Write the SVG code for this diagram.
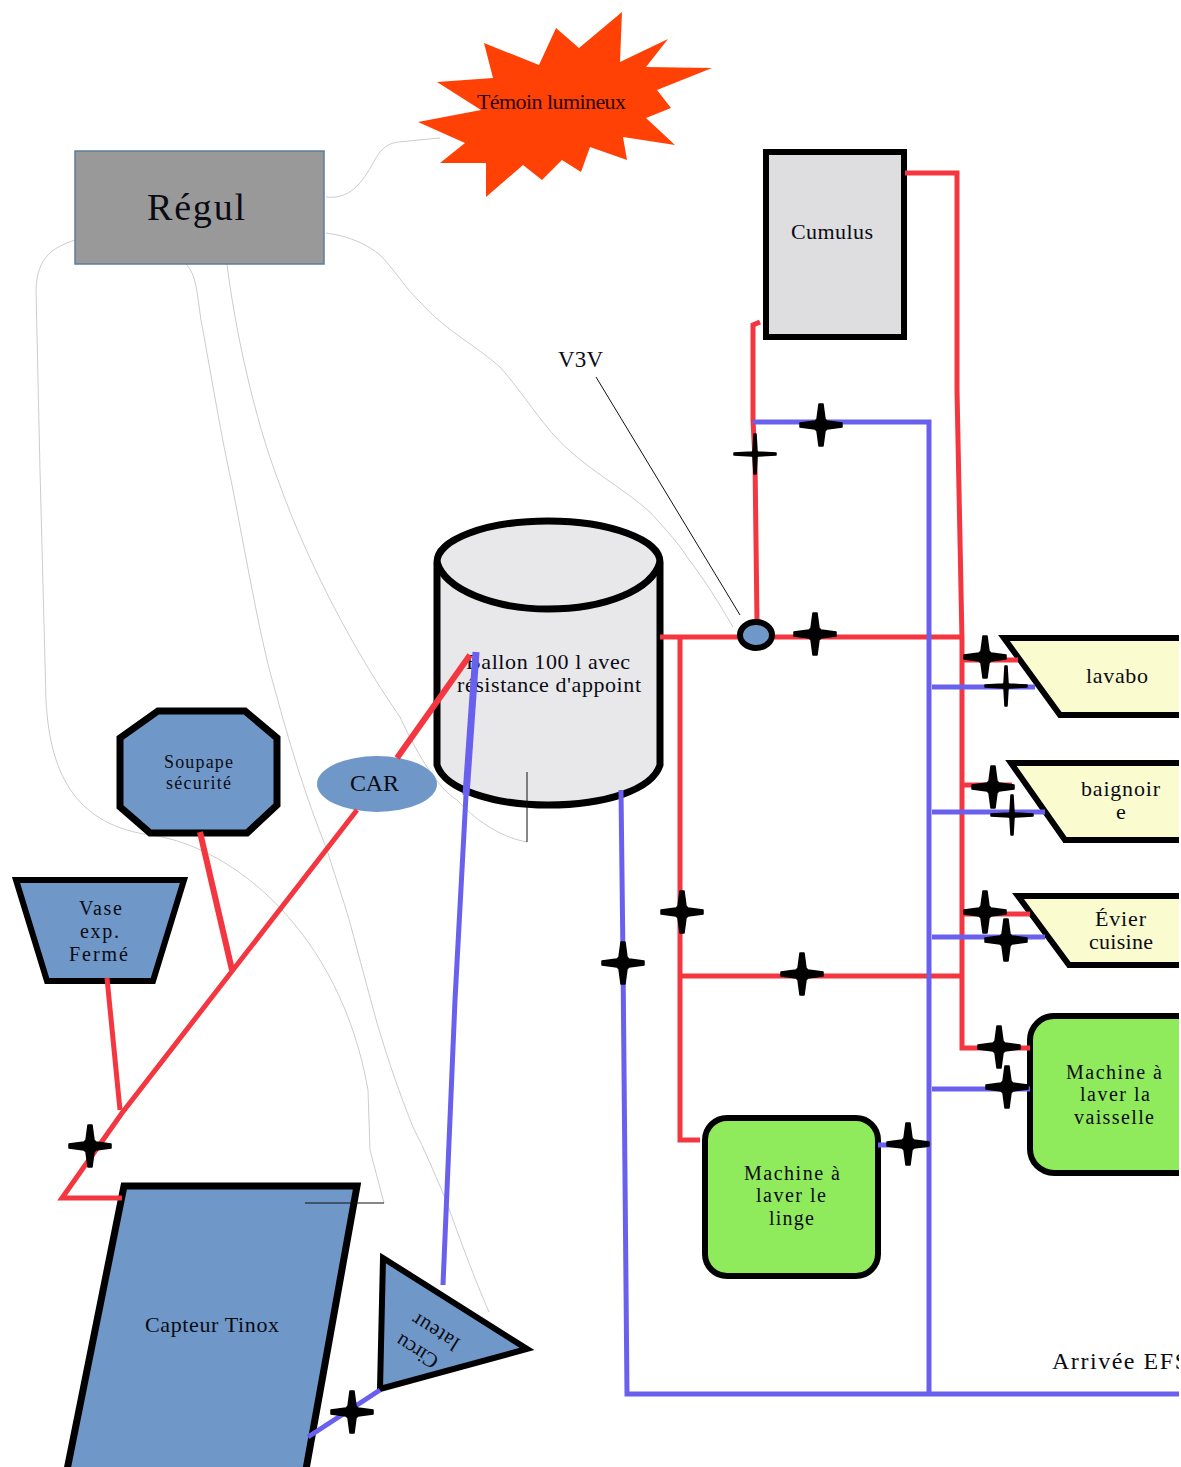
<svg xmlns="http://www.w3.org/2000/svg" xmlns:xlink="http://www.w3.org/1999/xlink" width="1181" height="1467" viewBox="0 0 1181 1467">
<style>
text{font-family:"Liberation Serif","Times New Roman",serif;fill:#0b0b14;text-anchor:start}
.t{font-size:22px}
.s{font-size:20px}
.n{stroke:#000;stroke-width:6;stroke-linejoin:miter}
.blue{fill:#6f97c8}
.green{fill:#8fea5c}
.cream{fill:#fbfbd0}
.grey{fill:#e8e8ea}
.r{fill:none;stroke:#f3363f;stroke-width:5;stroke-linejoin:miter}
.b{fill:none;stroke:#6a60ee;stroke-width:5}
.w{fill:none;stroke:#bcc0c0;stroke-width:.8}
.k{fill:none;stroke:#111;stroke-width:1}
.pl{stroke:#000;stroke-width:1.5;stroke-linejoin:round;fill:#000}
</style>
<defs>
<clipPath id="page"><rect x="0" y="0" width="1179" height="1467"/></clipPath>
<path id="plus" class="pl" d="M-21,-2 L-6,-4 L-4,-6 L-2,-21 L2,-21 L4,-6 L6,-4 L21,-2 L21,2 L6,4 L4,6 L2,21 L-2,21 L-4,6 L-6,4 L-21,2 Z"/>
<path id="plusThin" class="pl" d="M-21,-1 L-3,-2 L-2,-3 L-1,-20 L1,-20 L2,-3 L3,-2 L21,-1 L21,1 L3,2 L2,3 L1,20 L-1,20 L-2,3 L-3,2 L-21,1 Z"/>
</defs>
<g clip-path="url(#page)">
<rect width="1181" height="1467" fill="#fff"/>
<g id="wires">
<path class="w" d="M326,197 C345,199 358,190 372,165 C380,150 385,144 398,142 L440,138"/>
<path class="w" d="M75,240 C55,247 37,255 36,290 L40,470 L46,700 C50,780 80,825 150,835 C230,845 340,930 368,1090 L370,1150 L384,1203"/>
<path class="w" d="M186,264 C197,275 197,295 201,320 C212,380 222,440 231,480 C245,550 260,640 275,690 C290,745 305,795 327,850 C338,885 345,905 350,923 C360,960 368,990 377,1023 C388,1060 400,1095 413,1127 C425,1150 435,1175 446,1200 C460,1240 475,1280 489,1312"/>
<path class="w" d="M227,264 C235,330 255,420 278,480 C310,570 360,660 400,717 C420,760 440,790 457,800 C480,825 505,838 527,842"/>
<path class="w" d="M326,233 C350,236 368,245 380,255 C395,270 405,288 421,303 C445,330 475,345 500,367 C525,395 545,430 569,450 C590,470 625,490 650,512 C668,532 680,545 687,557 C705,580 720,605 733,627"/>
</g>
<g id="temoin">
<polygon points="622,12 620,62 668,39 646,67 712,68 657,90 671,108 646,118 675,145 623,137 627,160 590,147 581,172 562,160 542,180 523,165 486,197 486,163 440,163 465,143 418,122 481,110 437,82 493,78 484,43 539,65 556,28 579,48" fill="#ff4106"/>
<text class="t" x="477" y="109" textLength="149" lengthAdjust="spacing" style="fill:#2a0505">Témoin lumineux</text>
</g>
<g id="regul">
<rect x="75" y="151" width="249" height="113" fill="#999999" stroke="#5f7c97" stroke-width="1.5"/>
<text x="147" y="220" textLength="98" style="font-size:38px">Régul</text>
</g>
<g id="cumulus">
<rect class="n" x="766" y="152" width="138" height="185" fill="#dedee0"/>
<text class="t" x="791" y="239" textLength="82">Cumulus</text>
</g>
<g id="ballon">
<path class="n grey" d="M437,562 L437,765 C445,790 495,805 548,805 C605,805 652,790 660,765 L660,562 C660,540 610,521 548,521 C485,521 437,540 437,562 Z" style="stroke-width:7"/>
<path fill="none" stroke="#000" stroke-width="7" d="M437,562 C445,590 495,609 548,609 C605,609 652,590 660,562"/>
<text class="t" x="466" y="669" textLength="164">Ballon 100 l avec</text>
<text class="t" x="457" y="692" textLength="184">résistance d'appoint</text>
</g>
<g id="lavabo">
<polygon class="n cream" points="1004,638 1200,638 1200,715 1060,715"/>
<text class="t" x="1086" y="683" textLength="62">lavabo</text>
</g>
<g id="baignoire">
<polygon class="n cream" points="1011,763 1200,763 1200,840 1065,840"/>
<text class="t" x="1081" y="796" textLength="79">baignoir</text>
<text class="t" x="1116" y="819">e</text>
</g>
<g id="evier">
<polygon class="n cream" points="1018,896 1200,896 1200,965 1069,965"/>
<text class="t" x="1095" y="926" textLength="51">Évier</text>
<text class="t" x="1089" y="949" textLength="64">cuisine</text>
</g>
<g id="machine-vaisselle">
<rect class="n green" x="1030" y="1016" width="190" height="157" rx="24"/>
<text class="s" x="1066" y="1079" textLength="96">Machine à</text>
<text class="s" x="1080" y="1101" textLength="70">laver la</text>
<text class="s" x="1074" y="1124" textLength="80">vaisselle</text>
</g>
<g id="machine-linge">
<rect class="n green" x="705" y="1118" width="173" height="158" rx="22"/>
<text class="s" x="744" y="1180" textLength="96">Machine à</text>
<text class="s" x="756" y="1202" textLength="70">laver le</text>
<text class="s" x="769" y="1225" textLength="45">linge</text>
</g>
<g id="soupape">
<polygon class="n blue" points="158,711 245,711 277,738 277,805 247,833 150,833 120,807 120,738" style="stroke-width:7"/>
<text x="164" y="768" textLength="69" style="font-size:18px">Soupape</text>
<text x="166" y="789" textLength="65" style="font-size:18px">sécurité</text>
</g>
<g id="vase">
<polygon class="n blue" points="16,880 184,880 153,981 47,981"/>
<text class="s" x="79" y="915" textLength="43">Vase</text>
<text class="s" x="80" y="938" textLength="39">exp.</text>
<text class="s" x="69" y="961" textLength="59">Fermé</text>
</g>
<g id="capteur">
<polygon class="n blue" points="124,1186 357,1186 305,1475 66,1475" style="stroke-width:7"/>
<text class="t" x="145" y="1332" textLength="134">Capteur Tinox</text>
</g>
<g id="circulateur">
<polygon class="n blue" points="383,1258 527,1349 380,1389"/>
<text transform="translate(440,1358) rotate(212)" textLength="46" style="font-size:21px">Circu</text>
<text transform="translate(461,1340) rotate(212)" textLength="52" style="font-size:21px">lateur</text>
</g>
<g id="car">
<ellipse class="blue" cx="377" cy="784" rx="60" ry="28"/>
<text x="350" y="791" textLength="49" style="font-size:24px">CAR</text>
</g>
<g id="connectors">
<path class="r" d="M905,173 L957,173 L957,390 L962,640 L962,1048 L1030,1048"/>
<path class="r" d="M660,637 L962,637"/>
<path class="r" d="M680,637 L680,1140 L700,1140"/>
<path class="r" d="M680,976 L962,976"/>
<path class="r" d="M757,622 L755,460 L753,420 L753,325 L760,322"/>
<path class="r" style="stroke-width:6" d="M470,655 L397,758"/>
<path class="r" d="M357,810 L122,1113 L62,1198 L122,1198"/>
<path class="r" style="stroke-width:6" d="M200,832 L232,970"/>
<path class="r" d="M107,978 L120,1110"/>
<path class="r" d="M962,660 L1018,660"/>
<path class="r" d="M962,785 L1012,785"/>
<path class="r" d="M962,914 L1030,914"/>
<path class="b" d="M753,422 L929,422 L929,1394"/>
<path class="b" d="M621,790 L623,960 L627,1394 L1181,1394"/>
<path class="b" d="M932,687 L1035,687"/>
<path class="b" d="M932,812 L1045,812"/>
<path class="b" d="M932,937 L1045,937"/>
<path class="b" d="M932,1089 L1030,1089"/>
<path class="b" d="M878,1145 L929,1145"/>
<path class="b" style="stroke-width:7" d="M476,652 L466,795"/>
<path class="b" d="M466,795 L455,1000 L443,1285"/>
<path class="b" d="M308,1437 L380,1390"/>
<path class="k" d="M596,377 L740,615"/>
<path class="k" d="M527,772 L527,842"/>
<path class="k" d="M305,1203 L384,1203"/>
</g>
<g id="v3v">
<ellipse class="n blue" cx="756" cy="635" rx="16" ry="13"/>
<text x="558" y="367" textLength="45" style="font-size:23px">V3V</text>
</g>
<g id="valves">
<use xlink:href="#plusThin" x="755" y="454"/>
<use xlink:href="#plus" x="821" y="425"/>
<use xlink:href="#plus" x="815" y="634"/>
<use xlink:href="#plus" x="985" y="657"/>
<use xlink:href="#plusThin" x="1006" y="686"/>
<use xlink:href="#plus" x="993" y="787"/>
<use xlink:href="#plusThin" x="1012" y="815"/>
<use xlink:href="#plus" x="985" y="912"/>
<use xlink:href="#plus" x="1006" y="940"/>
<use xlink:href="#plus" x="999" y="1047"/>
<use xlink:href="#plus" x="1007" y="1087"/>
<use xlink:href="#plus" x="908" y="1144"/>
<use xlink:href="#plus" x="802" y="974"/>
<use xlink:href="#plus" x="682" y="912"/>
<use xlink:href="#plus" x="623" y="963"/>
<use xlink:href="#plus" x="90" y="1146"/>
<use xlink:href="#plus" x="352" y="1412"/>
</g>
<g id="arrivee">
<text x="1052" y="1369" textLength="136" style="font-size:24px">Arrivée EFS</text>
</g>
</g>
</svg>
